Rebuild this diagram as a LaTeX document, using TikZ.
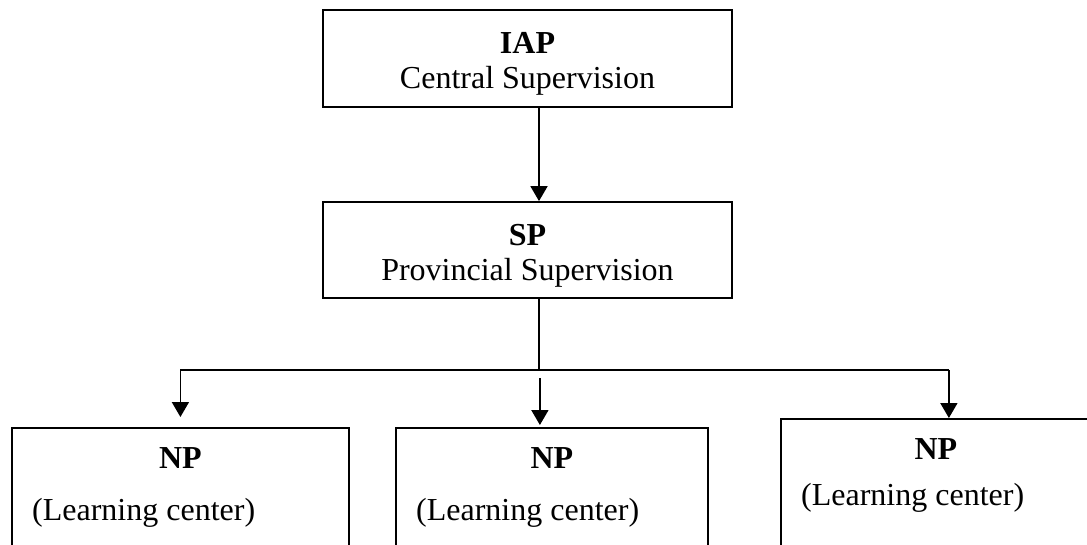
\documentclass[tikz,border=0pt]{standalone}
\usepackage{fontspec}
\setmainfont{Liberation Serif}
\usetikzlibrary{arrows.meta, positioning, calc}

\begin{document}
\begin{tikzpicture}[x=1pt, y=-1pt,
  box/.style={draw, line width=1.8pt, inner sep=0pt},
  txt/.style={font=\fontsize{32}{35}\selectfont, inner sep=0pt},
  link/.style={line width=1.8pt},
  arr/.style={link, -{Triangle[width=17pt, length=15pt]}}]
% Frame
\useasboundingbox (0,0) rectangle (1087,545);
\clip (0,0) rectangle (1087,545);
% Upper levels
\node[box, minimum width=409pt, minimum height=97pt] (iap) at (527.5,58.5) {};
\node[txt, anchor=base] (iaph) at ([yshift=-44pt]iap.north) {\textbf{IAP}};
\node[txt, anchor=base] (iapl) at ([yshift=-79pt]iap.north) {Central Supervision};
\node[box, minimum width=409pt, minimum height=96pt] (sp) at (527.5,250) {};
\node[txt, anchor=base] (sph) at ([yshift=-44pt]sp.north) {\textbf{SP}};
\node[txt, anchor=base] (spl) at ([yshift=-79pt]sp.north) {Provincial Supervision};
% Learning centres (cut off at the bottom)
\foreach \n/\x/\y/\w/\ly in {1/11/427/337/86, 2/395/427/312/86, 3/780/418/310/80} {
    \node[box, minimum width=\w pt, minimum height=200pt, anchor=north west] (np\n) at (\x,\y) {};
    \node[txt] (np\n h) at ([yshift=-31pt]np\n.north) {\textbf{NP}};
    \node[txt, anchor=west] (np\n l) at ([xshift=21pt, yshift=-\ly pt]np\n.north west) {(Learning center)};
}
% Connectors
\draw[arr] ([xshift=11.5pt]iap.south) -- ([xshift=11.5pt]sp.north);
\coordinate (bus) at (539,370);
\coordinate (d2) at ([xshift=-12pt]np2.north);
\coordinate (d3) at ([xshift=13pt]np3.north);
\draw[link] ([xshift=11.5pt]sp.south) -- (bus);
\draw[link] (np1.north |- bus) -- (d3 |- bus);
\draw[arr] (np1.north |- bus) -- ([yshift=10pt]np1.north);
\draw[arr] ([yshift=49pt]d2) -- ([yshift=2pt]d2);
\draw[arr] (d3 |- bus) -- (d3);
\end{tikzpicture}
\end{document}
